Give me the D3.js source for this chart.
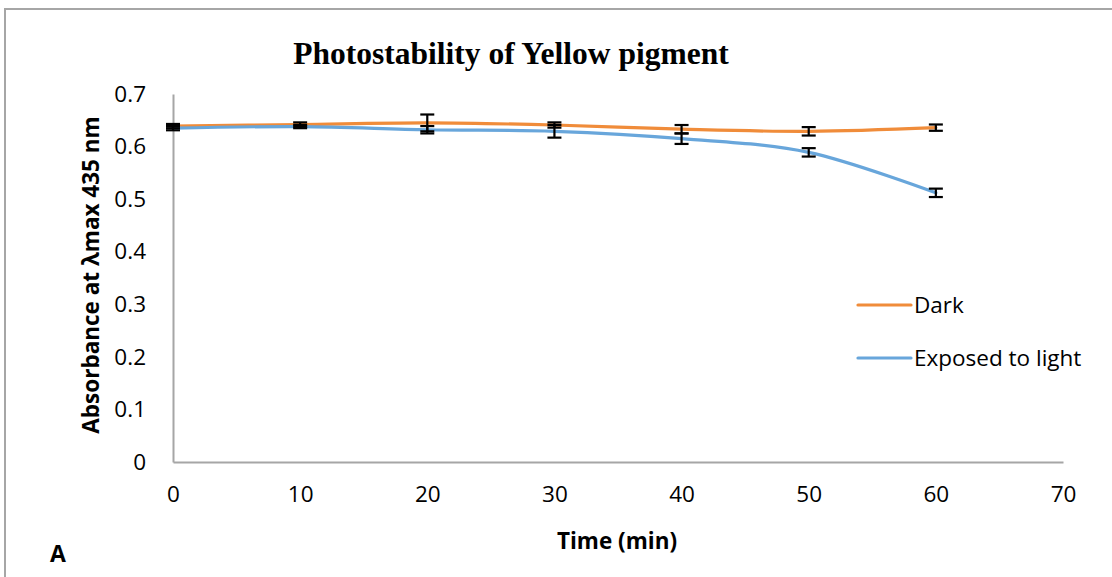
<!DOCTYPE html>
<html>
<head>
<meta charset="utf-8">
<script src="https://cdn.jsdelivr.net/npm/d3@7"></script>
<style>
  html, body { margin: 0; padding: 0; background: #fff; }
  svg { display: block; }
</style>
</head>
<body>
<svg id="chart" width="1112" height="577"></svg>
<script>
const times = [0, 10, 20, 30, 40, 50, 60];
const darkValues = [0.639, 0.642, 0.645, 0.641, 0.633, 0.629, 0.636];
const darkErrors = [0.004, 0.004, 0.016, 0.005, 0.008, 0.008, 0.006];
const lightValues = [0.635, 0.638, 0.632, 0.629, 0.615, 0.589, 0.512];
const lightErrors = [0.004, 0.003, 0.007, 0.012, 0.010, 0.008, 0.008];
const xTicks = [0, 10, 20, 30, 40, 50, 60, 70];
const yTicks = [0, 0.1, 0.2, 0.3, 0.4, 0.5, 0.6, 0.7];
const seriesNames = ["Dark", "Exposed to light"];
const seriesColors = ["#F08C3A", "#68A6DB"];
const titleText = "Photostability of Yellow pigment";
const xTitle = "Time (min)";
const yTitle = "Absorbance at λmax 435 nm";
const panelLabel = "A";

const svg = d3.select("#chart");
const font = "'Open Sans', 'Noto Sans', sans-serif";
const fs = 22.5;

// outer frame
svg.append("rect").attr("x", 5).attr("y", 9).attr("width", 1200).attr("height", 700)
  .attr("fill", "none").attr("stroke", "#a6a6a6").attr("stroke-width", 2);

const x = d3.scaleLinear().domain([0, 70]).range([173, 1063]);
const y = d3.scaleLinear().domain([0, 0.7]).range([462, 94]);

// title
svg.append("text").attr("x", 511).attr("y", 64).attr("text-anchor", "middle")
  .attr("font-family", "'Liberation Serif', 'Times New Roman', serif")
  .attr("font-weight", "bold").attr("font-size", 31.5).attr("fill", "#000").text(titleText);

// axes
const xAxis = d3.axisBottom(x).tickValues(xTicks).tickSize(0).tickPadding(24).tickFormat(d3.format("d"));
const gx = svg.append("g").attr("transform", `translate(0,${y(0)})`).call(xAxis);
gx.select(".domain").attr("stroke", "#a6a6a6").attr("stroke-width", 2);
gx.selectAll("text").attr("font-family", font).attr("font-size", fs).attr("fill", "#000");

const yAxis = d3.axisLeft(y).tickValues(yTicks).tickSize(0).tickPadding(27)
  .tickFormat(d => d === 0 ? "0" : d3.format(".1f")(d));
const gy = svg.append("g").attr("transform", `translate(${x(0)},0)`).call(yAxis);
gy.select(".domain").attr("stroke", "#a6a6a6").attr("stroke-width", 2);
gy.selectAll("text").attr("font-family", font).attr("font-size", fs).attr("fill", "#000");

// axis titles
svg.append("text").attr("x", 617).attr("y", 549).attr("text-anchor", "middle")
  .attr("font-family", font).attr("font-weight", "bold").attr("font-size", fs).text(xTitle);
svg.append("text").attr("transform", "translate(99,275) rotate(-90)").attr("text-anchor", "middle")
  .attr("font-family", font).attr("font-weight", "bold").attr("font-size", fs).text(yTitle);
svg.append("text").attr("x", 50).attr("y", 562)
  .attr("font-family", font).attr("font-weight", "bold").attr("font-size", 23).text(panelLabel);

// lines
const series = [
  { name: seriesNames[0], values: darkValues, errors: darkErrors, color: seriesColors[0] },
  { name: seriesNames[1], values: lightValues, errors: lightErrors, color: seriesColors[1] }
];
const line = d3.line().x(d => x(d[0])).y(d => y(d[1])).curve(d3.curveCardinal.tension(0));

series.forEach(s => {
  const pts = times.map((t, i) => [t, s.values[i]]);
  svg.append("path").datum(pts).attr("d", line).attr("fill", "none")
    .attr("stroke", s.color).attr("stroke-width", 3.2).attr("stroke-linecap", "round");
});

// error bars
series.forEach(s => {
  const g = svg.append("g").attr("stroke", "#000").attr("stroke-width", 2.2);
  times.forEach((t, i) => {
    const cx = x(t), hi = y(s.values[i] + s.errors[i]), lo = y(s.values[i] - s.errors[i]);
    g.append("line").attr("x1", cx).attr("x2", cx).attr("y1", hi).attr("y2", lo);
    g.append("line").attr("x1", cx - 7).attr("x2", cx + 7).attr("y1", hi).attr("y2", hi);
    g.append("line").attr("x1", cx - 7).attr("x2", cx + 7).attr("y1", lo).attr("y2", lo);
  });
});

// legend
const legendY = [305, 358];
series.forEach((s, i) => {
  svg.append("line").attr("x1", 858).attr("x2", 911).attr("y1", legendY[i]).attr("y2", legendY[i])
    .attr("stroke", s.color).attr("stroke-width", 3.2).attr("stroke-linecap", "round");
  svg.append("text").attr("x", 914).attr("y", legendY[i] + 8)
    .attr("font-family", font).attr("font-size", fs).attr("fill", "#000").text(s.name);
});
</script>
</body>
</html>
